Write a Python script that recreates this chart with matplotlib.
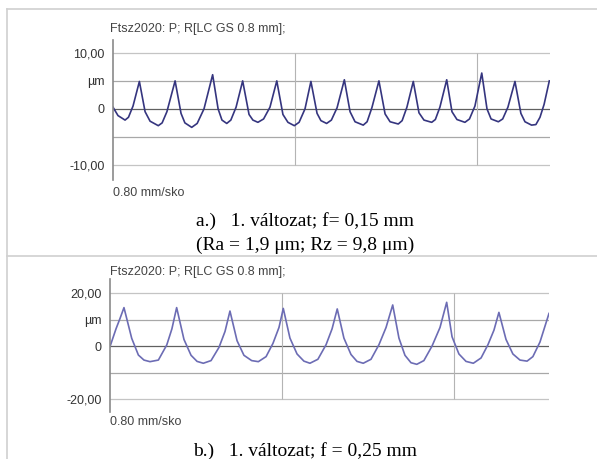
import matplotlib
matplotlib.use("Agg")
import matplotlib.pyplot as plt

# profile a (f = 0.15 mm): x in mm, height in um
xa = [0, 0.022, 0.053, 0.068, 0.088, 0.116, 0.141, 0.163, 0.199, 0.216, 0.237, 0.273,
      0.299, 0.316, 0.346, 0.370, 0.400, 0.438, 0.462, 0.479, 0.500, 0.518, 0.541, 0.570,
      0.598, 0.615, 0.637, 0.662, 0.690, 0.720, 0.747, 0.769, 0.797, 0.818, 0.844, 0.870,
      0.897, 0.914, 0.939, 0.960, 0.985, 1.017, 1.042, 1.064, 1.100, 1.117, 1.138, 1.169,
      1.196, 1.218, 1.254, 1.271, 1.292, 1.320, 1.345, 1.367, 1.401, 1.417, 1.437, 1.467,
      1.490, 1.512, 1.547, 1.567, 1.591, 1.621, 1.644, 1.662, 1.694, 1.713, 1.736, 1.767,
      1.793, 1.811, 1.840, 1.859, 1.877, 1.895, 1.918]
ya = [0.3, -1.2, -2.0, -1.5, 0.5, 4.9, -0.5, -2.2, -3.0, -2.5, -0.5, 5.0,
      -0.8, -2.5, -3.3, -2.6, 0.0, 6.1, 0.0, -2.0, -2.6, -2.0, 0.3, 5.0,
      -1.0, -2.0, -2.4, -1.8, 0.3, 5.0, -1.0, -2.4, -3.0, -2.4, 0.0, 4.9,
      -0.8, -2.1, -2.6, -2.0, 0.2, 5.2, -0.5, -2.3, -2.9, -2.3, 0.2, 5.0,
      -0.9, -2.3, -2.7, -2.1, 0.3, 4.9, -0.7, -2.0, -2.4, -1.9, 0.3, 5.2,
      -0.5, -1.9, -2.4, -1.8, 0.5, 6.4, 0.0, -1.8, -2.3, -1.8, 0.3, 4.9,
      -0.8, -2.3, -2.9, -2.8, -1.5, 0.8, 5.0]

# profile b (f = 0.25 mm)
xb = [0, 0.028, 0.047, 0.065, 0.101, 0.132, 0.158, 0.186, 0.225, 0.264,
      0.288, 0.310, 0.344, 0.377, 0.405, 0.434, 0.470, 0.507, 0.535, 0.558,
      0.591, 0.623, 0.659, 0.690, 0.726, 0.758, 0.786, 0.806, 0.837, 0.870,
      0.902, 0.930, 0.967, 1.005, 1.033, 1.057, 1.088, 1.121, 1.149, 1.178,
      1.214, 1.251, 1.284, 1.315, 1.344, 1.372, 1.400, 1.427, 1.460, 1.498,
      1.535, 1.566, 1.591, 1.623, 1.656, 1.690, 1.726, 1.758, 1.786, 1.809,
      1.842, 1.874, 1.907, 1.940, 1.967, 2.000, 2.042]
yb = [-0.2, 6.5, 10.5, 14.5, 2.9, -3.4, -5.3, -5.9, -5.3, 0.4,
      6.5, 14.5, 2.5, -3.5, -5.8, -6.5, -5.5, -0.5, 5.5, 13.2,
      2.0, -3.5, -5.5, -5.9, -4.0, 1.0, 7.0, 14.2, 3.0, -3.0,
      -5.7, -6.5, -5.0, 0.5, 6.5, 14.0, 3.0, -3.2, -5.8, -6.5,
      -5.0, 0.5, 7.0, 15.5, 3.0, -3.5, -6.3, -6.9, -5.5, 0.0,
      7.0, 16.5, 3.5, -3.0, -5.8, -6.5, -4.5, 0.5, 6.0, 12.7,
      2.5, -3.0, -5.3, -5.7, -4.0, 1.5, 12.3]

W, H = 597, 459
fig = plt.figure(figsize=(W / 100, H / 100), dpi=100)
sans = "Liberation Sans"
serif = "Liberation Serif"

def px(x, y):
    return x / W, 1 - y / H

def profile(left, right, top, bottom, x, y, lim, big, labels, color, xmax):
    ax = fig.add_axes([left / W, 1 - bottom / H, (right - left) / W, (bottom - top) / H])
    ax.plot(x, y, color=color, lw=1.2, solid_joinstyle="round")
    ax.set_xlim(0, xmax)
    ax.set_ylim(*lim)
    for v, c in [(big, "#c4c4c4"), (big / 2, "#a8a8a8"), (0, "#606060"),
                 (-big / 2, "#a8a8a8"), (-big, "#c4c4c4")]:
        ax.axhline(v, color=c, lw=0.9, zorder=0)
    ax.vlines([0.8, 1.6], -big, big, color="#b4b4b4", lw=0.8, zorder=0)
    ax.set_yticks([big, big / 2, 0, -big], labels)
    ax.set_xticks([])
    ax.tick_params(axis="y", length=0, pad=6, labelsize=9, labelcolor="#333333")
    for t in ax.get_yticklabels():
        t.set_family(sans)
    for s in ["top", "right", "bottom"]:
        ax.spines[s].set_visible(False)
    ax.spines["left"].set_color("#8a8a8a")
    ax.spines["left"].set_linewidth(1.2)
    ax.patch.set_alpha(0)
    return ax

profile(113, 550, 40, 180, xa, ya, (-12.7, 12.3), 10,
        ["10,00", "µm", "0", "-10,00"], "#35357f", 1.921)
profile(110, 549, 279, 412, xb, yb, (-24.9, 25.3), 20,
        ["20,00", "µm", "0", "-20,00"], "#6c6cb4", 2.042)

# headers and scale notes
fig.text(*px(110, 29), "Ftsz2020: P; R[LC GS 0.8 mm];", family=sans, fontsize=9,
         color="#444444", va="center")
fig.text(*px(113, 193), "0.80 mm/sko", family=sans, fontsize=9, color="#444444", va="center")
fig.text(*px(110, 272), "Ftsz2020: P; R[LC GS 0.8 mm];", family=sans, fontsize=9,
         color="#444444", va="center")
fig.text(*px(110, 422), "0.80 mm/sko", family=sans, fontsize=9, color="#444444", va="center")

# captions
fig.text(*px(305, 221), "a.)   1. változat; f= 0,15 mm", family=serif, fontsize=14,
         ha="center", va="center")
fig.text(*px(305, 245), "(Ra = 1,9 μm; Rz = 9,8 μm)", family=serif, fontsize=14,
         ha="center", va="center")
fig.text(*px(305, 451), "b.)   1. változat; f = 0,25 mm", family=serif, fontsize=14,
         ha="center", va="center")

# table borders
fig.add_artist(plt.Line2D([7 / W, 1], [1 - 9 / H] * 2, color="#d0d0d0", lw=1.2))
fig.add_artist(plt.Line2D([7 / W, 1], [1 - 256 / H] * 2, color="#d0d0d0", lw=1.2))
fig.add_artist(plt.Line2D([7 / W] * 2, [0, 1 - 9 / H], color="#d0d0d0", lw=1.2))

fig.savefig("out.png", dpi=100)
